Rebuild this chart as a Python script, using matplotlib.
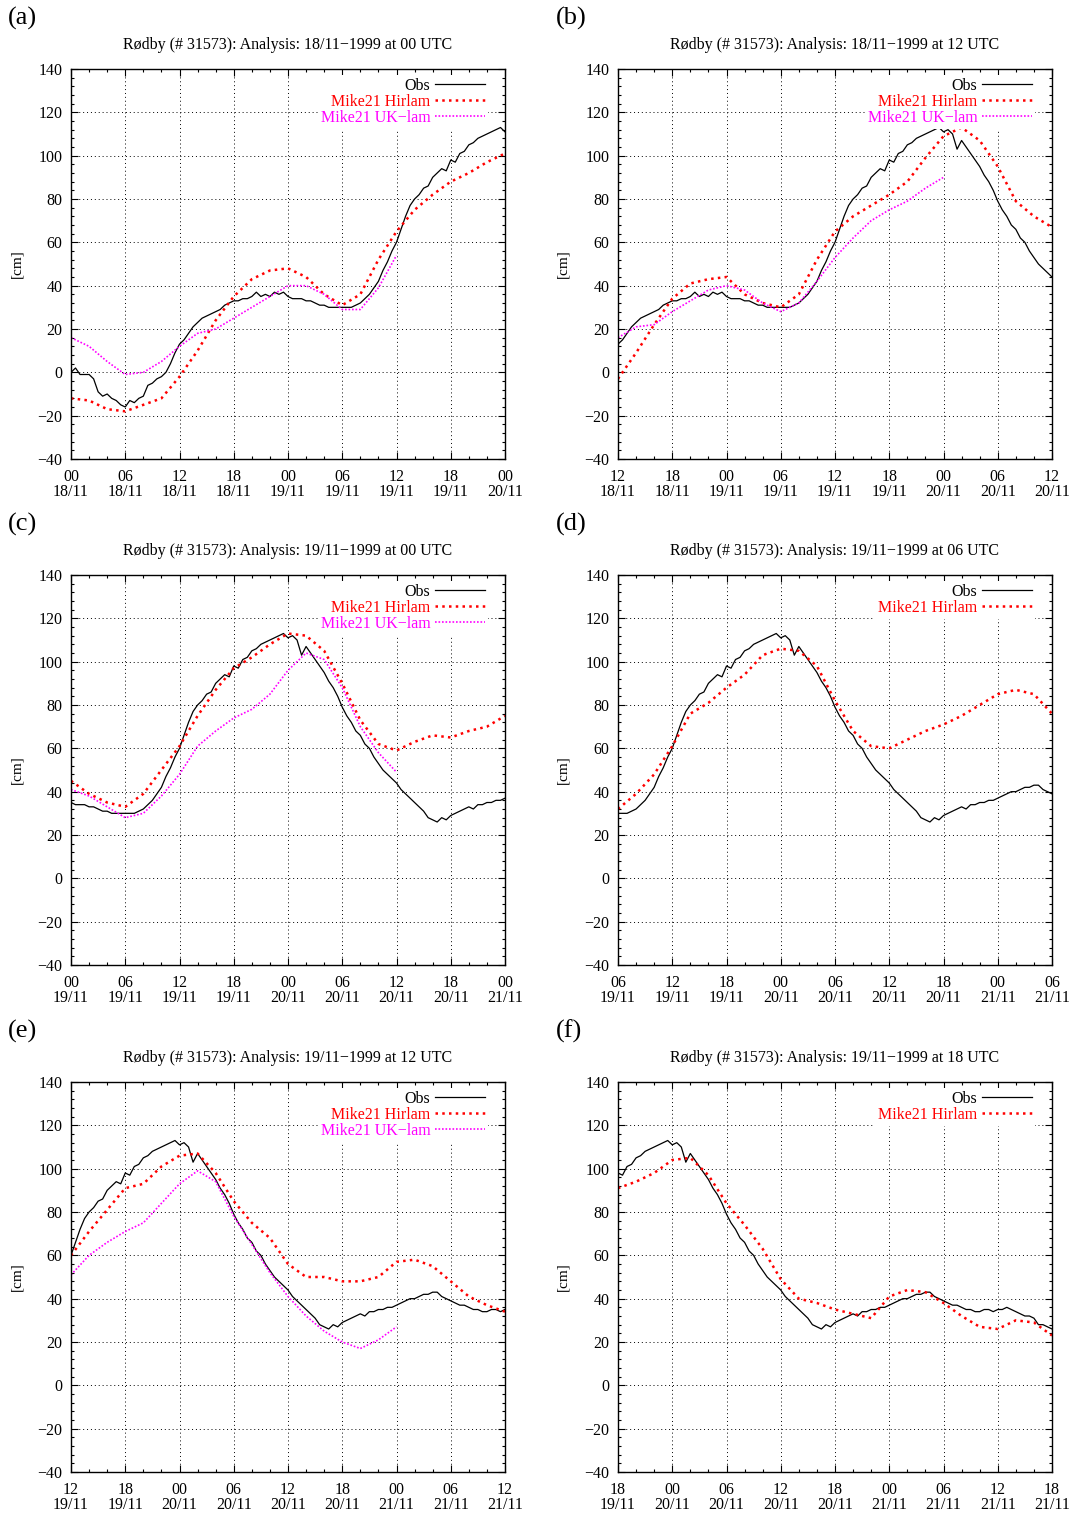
import numpy as np
import matplotlib.pyplot as plt
from matplotlib.ticker import MultipleLocator

plt.rcParams['font.family'] = ['Liberation Serif', 'DejaVu Serif']

# observed sea level at Rødby, every half hour from 18/11 00 UTC
obs_hours = np.arange(0, 90.5, 0.5)
obs_cm = [0, 2, -1, -1, -1, -3, -9, -11, -10, -12,
          -13, -15, -16, -13, -14, -12, -11, -6, -5, -3,
          -2, 0, 4, 9, 13, 15, 18, 21, 23, 25,
          26, 27, 28, 29, 31, 32, 33, 33, 34, 34,
          35, 37, 35, 36, 35, 37, 36, 37, 35, 34,
          34, 34, 33, 33, 32, 31, 31, 30, 30, 30,
          30, 30, 30, 31, 32, 34, 36, 39, 42, 47,
          51, 56, 60, 66, 72, 77, 80, 82, 85, 86,
          90, 92, 94, 93, 98, 97, 101, 102, 105, 106,
          108, 109, 110, 111, 112, 113, 111, 112, 110, 103,
          107, 104, 101, 98, 95, 91, 88, 84, 79, 75,
          72, 68, 66, 62, 60, 56, 53, 50, 48, 46,
          44, 41, 39, 37, 35, 33, 31, 28, 27, 26,
          28, 27, 29, 30, 31, 32, 33, 32, 34, 34,
          35, 35, 36, 36, 37, 38, 39, 40, 40, 41,
          42, 42, 43, 43, 41, 40, 39, 38, 37, 37,
          36, 35, 35, 34, 34, 35, 35, 34, 35, 35,
          36, 35, 34, 33, 32, 32, 31, 28, 28, 27,
          26]

# model forecasts, every 2 h from analysis time
fc_hours = np.arange(0, 49, 2)
uk_hours = np.arange(0, 37, 2)

hirlam_a = [-12, -13, -17, -18, -15, -12, -2, 10, 24, 35, 43, 47, 48,
            44, 36, 31, 36, 52, 65, 75, 82, 88, 92, 97, 101]
uklam_a = [16, 12, 5, -1, 0, 5, 12, 18, 20, 25, 30, 35, 40, 40, 36,
           29, 29, 39, 54]

hirlam_b = [-3, 9, 22, 34, 41, 43, 44, 36, 32, 30, 36, 52, 65, 72, 77,
            82, 88, 99, 109, 113, 107, 95, 79, 72, 67]
uklam_b = [16, 21, 22, 28, 33, 38, 40, 38, 32, 28, 32, 42, 53, 62, 70,
           75, 79, 85, 90]

hirlam_c = [45, 39, 35, 33, 39, 50, 61, 75, 87, 97, 102, 108, 113, 112,
            105, 90, 73, 62, 59, 63, 66, 65, 68, 70, 75]
uklam_c = [41, 38, 33, 28, 30, 38, 48, 61, 68, 74, 78, 85, 96, 104, 101,
           88, 70, 58, 49]

hirlam_d = [32, 39, 48, 61, 76, 81, 88, 94, 103, 106, 105, 98, 82, 68,
            61, 60, 64, 68, 71, 75, 80, 85, 87, 85, 76]

hirlam_e = [60, 71, 81, 91, 93, 101, 106, 107, 98, 85, 75, 68, 56, 50,
            50, 48, 48, 50, 57, 58, 55, 48, 41, 37, 34]
uklam_e = [51, 60, 66, 71, 75, 84, 93, 99, 94, 78, 65, 52, 41, 32, 25,
           20, 17, 21, 27]

hirlam_f = [91, 94, 98, 104, 105, 97, 84, 74, 63, 49, 40, 38, 35, 33,
            31, 41, 44, 43, 38, 32, 27, 26, 30, 29, 23]

panel_ids = ['(a)', '(b)', '(c)', '(d)', '(e)', '(f)']
panel_start = [0, 12, 24, 30, 36, 42]
analysis_times = ['18/11\u22121999 at 00 UTC', '18/11\u22121999 at 12 UTC',
                  '19/11\u22121999 at 00 UTC', '19/11\u22121999 at 06 UTC',
                  '19/11\u22121999 at 12 UTC', '19/11\u22121999 at 18 UTC']
hirlam_runs = [hirlam_a, hirlam_b, hirlam_c, hirlam_d, hirlam_e, hirlam_f]
uklam_runs = [uklam_a, uklam_b, uklam_c, None, uklam_e, None]

W, H = 1073, 1513
fig = plt.figure(figsize=(W / 100, H / 100), dpi=100)

col_left = [71, 618]
row_top = [69, 575, 1082]
aw, ah = 434, 390

for i in range(6):
    r, c = i // 2, i % 2
    left, top = col_left[c], row_top[r]
    ax = fig.add_axes([left / W, 1 - (top + ah) / H, aw / W, ah / H])
    s = panel_start[i]

    k = 2 * s
    t_obs = obs_hours[k:k + 97] - s
    ax.plot(t_obs, obs_cm[k:k + 97], color='black', lw=0.9, label='Obs')
    ax.plot(fc_hours, hirlam_runs[i], color='#ff0000', lw=1.8,
            linestyle=(0, (1, 1.7)), dash_capstyle='butt', label='Mike21 Hirlam')
    if uklam_runs[i] is not None:
        ax.plot(uk_hours, uklam_runs[i], color='#ff00ff', lw=1.2,
                linestyle=(0, (1, 1.1)), dash_capstyle='butt',
                label='Mike21 UK\u2212lam')

    ax.set_xlim(0, 48)
    ax.set_ylim(-40, 140)
    ax.xaxis.set_minor_locator(MultipleLocator(2))
    ax.yaxis.set_major_locator(MultipleLocator(20))
    ax.yaxis.set_minor_locator(MultipleLocator(4))
    ticks = np.arange(0, 49, 6)
    ax.set_xticks(ticks)
    ax.set_xticklabels(['%02d\n%d/11' % ((s + t) % 24, 18 + (s + t) // 24)
                        for t in ticks])
    for lbl in ax.get_xticklabels():
        lbl.set_linespacing(0.95)
    ax.tick_params(which='both', direction='in', top=True, right=True,
                   labelsize=11.5, width=0.8)
    ax.tick_params(which='major', length=5)
    ax.tick_params(which='minor', length=2.5)
    ax.tick_params(axis='x', pad=7)
    ax.tick_params(axis='y', pad=6)
    ax.grid(True, which='major', color='black', lw=0.7, linestyle=(0, (1, 3)))
    for sp in ax.spines.values():
        sp.set_linewidth(1.0)

    leg = ax.legend(loc='upper right', bbox_to_anchor=(0.961, 0.985),
                    markerfirst=False, frameon=True,
                    facecolor='white', edgecolor='none', framealpha=1,
                    fontsize=11.5, handlelength=3.1, handletextpad=0.3,
                    labelspacing=0.0, borderpad=0.2, borderaxespad=0)
    leg.get_frame().set_boxstyle('square', pad=0)
    for txt, line in zip(leg.get_texts(), leg.get_lines()):
        txt.set_color(line.get_color())

    lx = 8 if c == 0 else 556
    fig.text(lx / W, 1 - (top - 51) / H, panel_ids[i], fontsize=19,
             ha='left', va='center')
    fig.text((left + aw / 2) / W, 1 - (top - 24) / H,
             'R\u00f8dby (# 31573): Analysis: ' + analysis_times[i],
             fontsize=11.5, ha='center', va='center')
    yx = 17 if c == 0 else 563
    fig.text(yx / W, 1 - (top + ah / 2) / H, '[cm]', fontsize=11,
             rotation=90, ha='center', va='center')

fig.savefig('out.png', dpi=100)
